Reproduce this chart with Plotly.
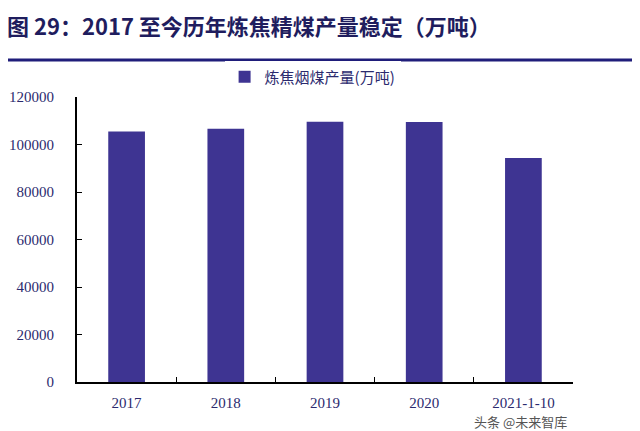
import plotly.graph_objects as go

categories = ["2017", "2018", "2019", "2020", "2021-1-10"]
output_wt = [105500, 106600, 109600, 109500, 94300]
y_ticks = [0, 20000, 40000, 60000, 80000, 100000, 120000]

navy = "#2b2a6e"
bar_color = "#3e3492"

fig = go.Figure()
fig.add_trace(
    go.Bar(
        x=categories,
        y=output_wt,
        name="炼焦烟煤产量(万吨)",
        marker=dict(color=bar_color, line=dict(width=0)),
    )
)

# page body has an 8px margin, so the figure is shrunk by that much
fig.update_layout(
    width=632,
    height=423,
    margin=dict(l=69, r=67, t=89, b=49),
    paper_bgcolor="white",
    plot_bgcolor="white",
    bargap=0.63,
    showlegend=True,
    legend=dict(
        orientation="h",
        x=0.475,
        y=1.07,
        xanchor="center",
        yanchor="middle",
        font=dict(family="Noto Sans CJK SC", size=15, color=navy),
        itemwidth=30,
    ),
    xaxis=dict(
        type="category",
        automargin=False,
        showline=True,
        linecolor="black",
        linewidth=2,
        ticks="inside",
        tickson="boundaries",
        ticklen=5,
        tickcolor="black",
        ticklabelstandoff=6,
        tickfont=dict(family="Liberation Serif", size=15, color=navy),
        showgrid=False,
    ),
    yaxis=dict(
        range=[0, 120000],
        tickvals=y_ticks,
        tickformat="d",
        automargin=False,
        showline=True,
        linecolor="black",
        linewidth=2,
        ticks="inside",
        ticklen=5,
        tickcolor="black",
        ticklabelstandoff=18,
        tickfont=dict(family="Liberation Serif", size=15, color=navy),
        showgrid=False,
        zeroline=False,
    ),
    shapes=[
        dict(
            type="line",
            xref="paper",
            yref="paper",
            x0=-0.149,
            x1=1.14,
            y0=1.13,
            y1=1.13,
            line=dict(color="#1f1d7a", width=3),
        )
    ],
    annotations=[
        dict(
            text="<b>图 29：2017 至今历年炼焦精煤产量稳定（万吨）</b>",
            xref="paper",
            yref="paper",
            x=-0.146,
            y=1.253,
            xanchor="left",
            yanchor="middle",
            showarrow=False,
            font=dict(family="Noto Sans CJK SC", size=22, color="#1f1d5e"),
        ),
        dict(
            text="头条 @未来智库",
            xref="paper",
            yref="paper",
            x=0.895,
            y=-0.14,
            xanchor="center",
            yanchor="middle",
            showarrow=False,
            font=dict(family="Noto Sans CJK SC", size=13, color="#555555"),
        ),
    ],
)

fig.write_html("out.html")
